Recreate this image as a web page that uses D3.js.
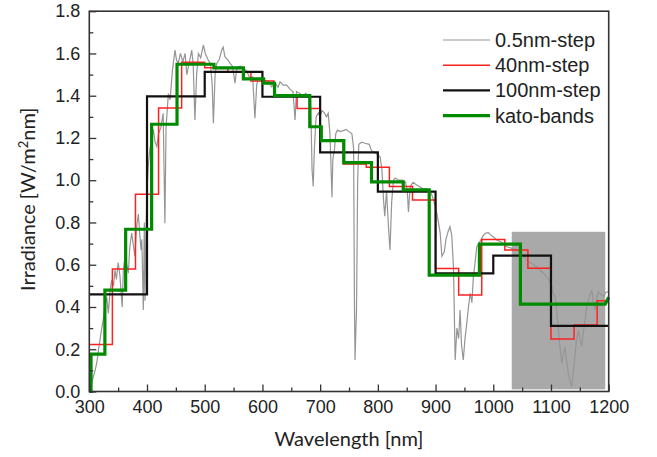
<!DOCTYPE html>
<html>
<head>
<meta charset="utf-8">
<script src="https://cdn.jsdelivr.net/npm/d3@7"></script>
<style>
  body { margin: 0; background: #fff; }
  .tick text { font-family: "Liberation Sans", Arial, sans-serif; font-size: 18px; fill: #222; }
  .title { font-family: Lato, "Open Sans", sans-serif; font-size: 20px; fill: #222; }
  .legendText { font-family: "Liberation Sans", Arial, sans-serif; font-size: 20px; fill: #222; }
</style>
</head>
<body>
<svg id="chart" width="657" height="457"></svg>
<script>
// 0.5nm-step spectrum (wavelength nm, irradiance)
var specWl = [300,303,307,310,313,316,318.5,321,324,327,330,333,336,339,342,344.5,347,350,353,357,359,362,365,367.6,370,373.5,376,379,382,385,387,389.6,391,393.6,395.4,396.5,398,400,402,405,408,411,414,417,420,424,428,431,433,437,440,444,448.5,451,454,458,462,466,469,471.6,475,477.5,480,483,486,489,493,497.6,501,506,510,513,515,518,520.8,525,529.5,532,535,540,544,548,552.5,555,558,562,567,572,578.5,583,587,590,593,598,604.5,610,616,622,627,630.5,636,642,648,653,656.5,659,665,670,675,680,683.5,686,688,690,693,697,700,703,707,711,714,717,719,720.5,722,725,727,730,735,740,745,750,755,758,759.5,760.5,762,763,765,767,772,778,785,789,795,800,804,807,810,812,815,818,821,824,827,830,836,842,848,851,853,856,861,866,872,878,884,890,895,899,902,905,908,911,915,918,922,925,928,931,934,937,940,942.5,945,948,951,954,957,960,963,965.5,968,971.4,975,979,983,987,991.5,996,1001,1006,1012,1018,1023.4,1030,1035,1040.7,1046,1052,1058,1064,1070,1075.4,1081,1087,1092.7,1098.4,1101,1104,1107,1110,1113,1116,1118.7,1121,1124.4,1127,1130,1133,1136,1139,1141.8,1144,1147.5,1150,1153.3,1156,1159,1162,1164.8,1168,1170.7,1173,1176.4,1179,1182,1186,1190.8,1195,1199.5];
var specVal = [0,0.03,0.07,0.10,0.135,0.2,0.244,0.29,0.338,0.40,0.449,0.37,0.48,0.528,0.50,0.575,0.53,0.61,0.55,0.40,0.58,0.64,0.60,0.56,0.68,0.75,0.70,0.64,0.78,0.84,0.76,0.67,0.72,0.386,0.80,0.43,0.72,0.95,1.064,1.15,1.19,1.24,1.18,1.16,1.22,1.25,1.317,0.796,1.25,1.41,1.38,1.52,1.616,1.57,1.553,1.60,1.56,1.60,1.50,1.537,1.58,1.616,1.55,1.285,1.50,1.60,1.58,1.64,1.60,1.569,1.55,1.45,1.27,1.50,1.553,1.57,1.616,1.63,1.585,1.57,1.553,1.54,1.459,1.52,1.537,1.54,1.53,1.52,1.482,1.49,1.293,1.45,1.482,1.48,1.474,1.47,1.442,1.46,1.44,1.466,1.45,1.45,1.43,1.42,1.285,1.42,1.41,1.40,1.41,1.40,1.38,1.05,0.97,1.15,1.30,1.32,1.30,1.33,1.32,1.30,1.317,1.22,1.05,0.92,1.10,1.15,1.22,1.237,1.23,1.235,1.24,1.23,1.22,1.15,0.40,0.149,0.30,0.386,1.00,1.17,1.18,1.175,1.17,1.14,1.13,1.12,1.11,1.05,0.90,0.83,0.95,0.80,0.67,0.90,1.0,1.01,1.0,1.0,0.99,0.95,0.85,0.97,0.99,0.98,0.97,0.96,0.96,0.95,0.92,0.88,0.845,0.80,0.75,0.64,0.66,0.72,0.76,0.78,0.74,0.59,0.149,0.30,0.25,0.386,0.22,0.149,0.25,0.32,0.40,0.465,0.42,0.543,0.60,0.685,0.70,0.72,0.74,0.75,0.752,0.74,0.73,0.717,0.71,0.70,0.685,0.68,0.675,0.67,0.66,0.64,0.622,0.61,0.60,0.59,0.575,0.56,0.543,0.52,0.50,0.465,0.449,0.38,0.29,0.20,0.133,0.17,0.212,0.15,0.086,0.05,0.023,0.10,0.18,0.24,0.29,0.25,0.212,0.28,0.338,0.40,0.433,0.46,0.48,0.43,0.386,0.44,0.472,0.46,0.449,0.47,0.472];

// 40nm-step
var step40Edges = [300,340,380,420,460,500,540,580,620,660,700,740,780,820,860,900,940,980,1020,1060,1100,1140,1180,1200];
var step40Val   = [0.223,0.58,0.934,1.342,1.558,1.532,1.513,1.47,1.40,1.34,1.19,1.077,1.061,0.97,0.906,0.582,0.457,0.72,0.67,0.583,0.248,0.315,0.43];

// 100nm-step
var step100Edges = [300,400,500,600,700,800,900,1000,1100,1200];
var step100Val   = [0.46,1.397,1.513,1.395,1.132,0.946,0.559,0.643,0.311];

// kato bands
var katoEdges = [300,303,327,363,408,452,516,567,602,621,682,702,741,789,844,889,976,1047,1194,1200];
var katoVal   = [0,0.177,0.48,0.768,1.265,1.549,1.532,1.48,1.459,1.40,1.253,1.187,1.083,0.992,0.954,0.551,0.698,0.414,0.414];
var katoEnd = 0.446;

// shaded box
var boxWl = [1032, 1194];
var boxVal = [0.01, 0.756];

var seriesNames = ["0.5nm-step", "40nm-step", "100nm-step", "kato-bands"];
var seriesColors = ["#959595", "#ff2020", "#111111", "#008a00"];
var seriesWidths = [1.2, 1.5, 2.2, 3.2];

var xTicks = [300,400,500,600,700,800,900,1000,1100,1200];
var yTicks = [0,0.2,0.4,0.6,0.8,1.0,1.2,1.4,1.6,1.8];

var svg = d3.select("#chart");
var pLeft = 89.3, pRight = 608.7, pTop = 11.2, pBottom = 391.5;

var x = d3.scaleLinear().domain([300, 1200]).range([pLeft, pRight]);
var y = d3.scaleLinear().domain([0, 1.8]).range([pBottom, pTop]);

function stepPoints(edges, vals) {
	var pts = [];
	for (var i = 0; i < vals.length; i++) pts.push([edges[i], vals[i]]);
	pts.push([edges[edges.length - 1], vals[vals.length - 1]]);
	return pts;
}

var lineStep = d3.line().x(function(d) { return x(d[0]); }).y(function(d) { return y(d[1]); }).curve(d3.curveStepAfter);
var lineLin = d3.line().x(function(d) { return x(d[0]); }).y(function(d) { return y(d[1]); });

// grey box
svg.append("rect")
	.attr("x", x(boxWl[0]))
	.attr("y", y(boxVal[1]))
	.attr("width", x(boxWl[1]) - x(boxWl[0]))
	.attr("height", y(boxVal[0]) - y(boxVal[1]))
	.attr("fill", "#a9a9a9");

var plot = svg.append("g");

// spectrum
plot.append("path")
	.attr("d", lineLin(specWl.map(function(w, i) { return [w, specVal[i]]; })))
	.attr("fill", "none")
	.attr("stroke", seriesColors[0])
	.attr("stroke-width", seriesWidths[0]);

plot.append("path")
	.attr("d", lineStep(stepPoints(step40Edges, step40Val)))
	.attr("fill", "none")
	.attr("stroke", seriesColors[1])
	.attr("stroke-width", seriesWidths[1]);

plot.append("path")
	.attr("d", lineStep(stepPoints(step100Edges, step100Val)))
	.attr("fill", "none")
	.attr("stroke", seriesColors[2])
	.attr("stroke-width", seriesWidths[2]);

var katoPts = stepPoints(katoEdges, katoVal);
katoPts.pop();
var katoPath = lineStep(katoPts) + "L" + x(katoEdges[katoEdges.length - 1]) + "," + y(katoEnd);
plot.append("path")
	.attr("d", katoPath)
	.attr("fill", "none")
	.attr("stroke", seriesColors[3])
	.attr("stroke-width", seriesWidths[3]);

// axes (ticks point inward)
var xMinor = d3.range(350, 1200, 100);
var yMinor = d3.range(0.1, 1.8, 0.2);

svg.append("g")
	.attr("transform", "translate(0," + pBottom + ")")
	.call(d3.axisBottom(x).tickValues(xMinor).tickSize(-4).tickFormat(""))
	.call(function(g) { g.select(".domain").remove(); });
svg.append("g")
	.attr("transform", "translate(" + pLeft + ",0)")
	.call(d3.axisLeft(y).tickValues(yMinor).tickSize(-4).tickFormat(""))
	.call(function(g) { g.select(".domain").remove(); });

var xAxis = svg.append("g")
	.attr("transform", "translate(0," + pBottom + ")")
	.call(d3.axisBottom(x).tickValues(xTicks).tickSize(-7).tickPadding(9).tickFormat(d3.format("d")));
xAxis.select(".domain").remove();

var yAxis = svg.append("g")
	.attr("transform", "translate(" + pLeft + ",0)")
	.call(d3.axisLeft(y).tickValues(yTicks).tickSize(-7).tickPadding(9).tickFormat(d3.format(".1f")));
yAxis.select(".domain").remove();

svg.selectAll(".tick line").attr("stroke", "#333").attr("stroke-width", 1.3);

// frame
svg.append("rect")
	.attr("x", pLeft).attr("y", pTop)
	.attr("width", pRight - pLeft).attr("height", pBottom - pTop)
	.attr("fill", "none")
	.attr("stroke", "#333")
	.attr("stroke-width", 1.6);

// titles
svg.append("text")
	.attr("class", "title")
	.attr("x", (pLeft + pRight) / 2)
	.attr("y", 446)
	.attr("text-anchor", "middle")
	.text("Wavelength [nm]");

var yt = svg.append("text")
	.attr("class", "title")
	.attr("transform", "translate(35," + ((pTop + pBottom) / 2 - 2) + ") rotate(-90)")
	.attr("text-anchor", "middle");
yt.append("tspan").text("Irradiance [W/m");
yt.append("tspan").attr("dy", -7).attr("font-size", "13px").text("2");
yt.append("tspan").attr("dy", 7).text("nm]");

// legend
var legend = svg.append("g").selectAll("g")
	.data(seriesNames)
	.enter()
		.append("g")
		.attr("transform", function(d, i) { return "translate(0," + (40 + i * 25.2) + ")"; });

legend.append("line")
	.attr("x1", 443).attr("x2", 490)
	.attr("stroke", function(d, i) { return seriesColors[i]; })
	.attr("stroke-width", function(d, i) { return seriesWidths[i]; });

legend.append("text")
	.attr("class", "legendText")
	.attr("x", 495)
	.attr("dy", "0.35em")
	.text(function(d) { return d; });
</script>
</body>
</html>
